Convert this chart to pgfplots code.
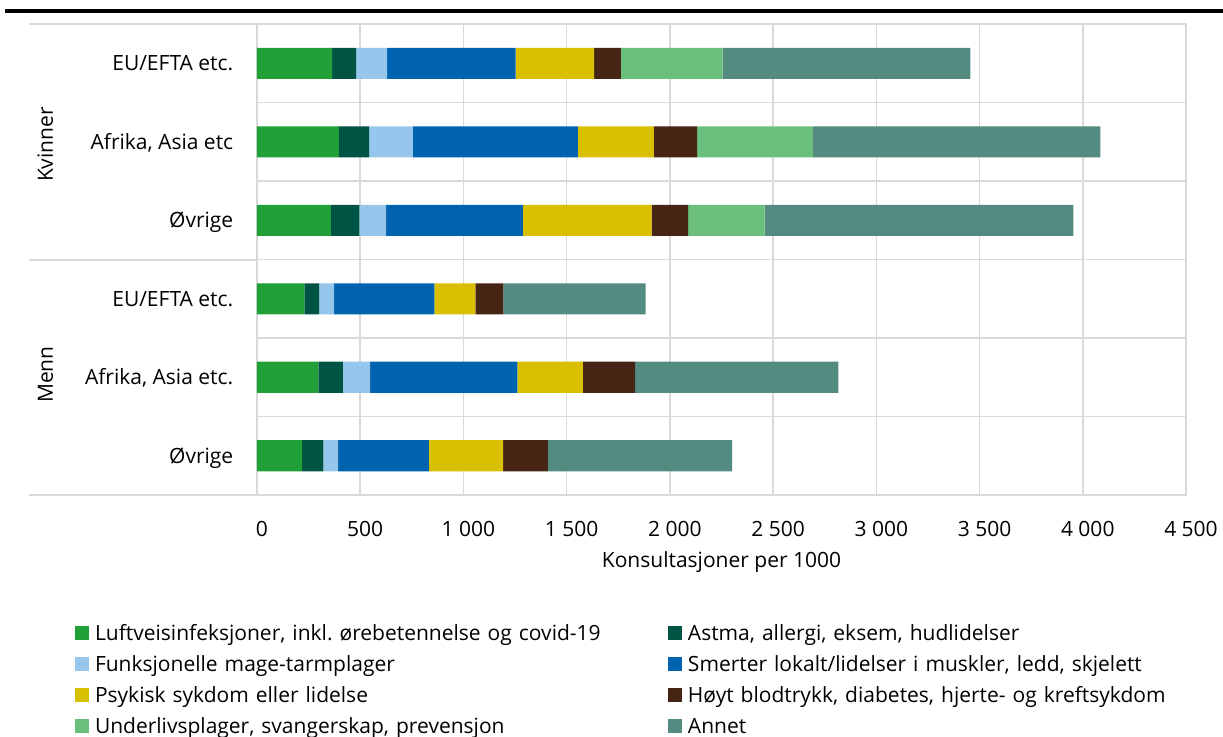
\documentclass[border=0pt]{standalone}
\usepackage{fontspec}
\setmainfont{Open Sans}
\usepackage{pgfplots}
\pgfplotsset{compat=1.18}
\definecolor{c1}{RGB}{33,160,56}
\definecolor{c2}{RGB}{0,84,68}
\definecolor{c3}{RGB}{150,198,235}
\definecolor{c4}{RGB}{0,99,175}
\definecolor{c5}{RGB}{216,191,0}
\definecolor{c6}{RGB}{71,37,20}
\definecolor{c7}{RGB}{106,191,124}
\definecolor{c8}{RGB}{84,139,129}
\definecolor{gridgray}{RGB}{217,217,217}
\newcommand\f{\fontsize{10.5pt}{12.6pt}\selectfont}
\frenchspacing
\begin{document}
\frenchspacing
\begin{tikzpicture}
\useasboundingbox (0,0) rectangle (611.5pt,-368.5pt);
\draw[line width=2pt] (2.5pt,-5.65pt) -- (611.5pt,-5.65pt);
\begin{axis}[
 at={(128.5pt,-247.5pt)}, anchor=south west,
 scale only axis, width=464.5pt, height=235.5pt,
 xbar stacked, bar width=0.395,
 xmin=0, xmax=4500, ymin=-0.5, ymax=5.5,
 xtick={0,500,...,4500},
 ytick={0,1,2,3,4,5},
 yticklabels={Øvrige,{Afrika, Asia etc.},EU/EFTA etc.,Øvrige,{Afrika, Asia etc},EU/EFTA etc.},
 minor ytick={0.5,1.5,2.5,3.5,4.5},
 xmajorgrids, yminorgrids,
 major grid style={gridgray, line width=0.75pt},
 minor grid style={gridgray, line width=0.75pt},
 axis line style={gridgray, line width=0.75pt},
 major tick length=0pt, minor tick length=0pt,
 tick style={draw=none},
 /pgf/number format/assume math mode=true,
 /pgf/number format/1000 sep={\ },
 xticklabel style={font=\f, anchor=base, inner sep=0pt, yshift=-20.5pt, xshift=2.5pt},
 yticklabel style={font=\f, anchor=base east, inner sep=0pt, xshift=-11.7pt, yshift=-3.75pt},
 xlabel={Konsultasjoner per 1000},
 xlabel style={font=\f, at={(axis description cs:0.5,0)}, anchor=base, inner sep=0pt, yshift=-36.5pt},
 legend columns=2,
 legend cell align=left,
 legend style={at={(-0.1959,-0.2745)}, anchor=north west, draw=none, fill=none,
   inner sep=0pt, outer sep=0pt, font=\f\frenchspacing, row sep=5pt,
   nodes={inner sep=0pt, text height=8pt, text depth=2.5pt, text width=286.5pt, align=left},
   /tikz/every odd column/.append style={column sep=3pt}},
 legend image code/.code={\fill[#1] (0pt,-2.75pt) rectangle (7pt,4.25pt);},
]
\addplot[fill=c1, draw=none] coordinates {(219,0) (297,1) (229,2) (358,3) (397,4) (364,5)};
\addlegendentry{Luftveisinfeksjoner, inkl.\ ørebetennelse og covid-19}
\addplot[fill=c2, draw=none] coordinates {(102,0) (119,1) (72,2) (138,3) (146,4) (116,5)};
\addlegendentry{Astma, allergi, eksem, hudlidelser}
\addplot[fill=c3, draw=none] coordinates {(72,0) (132,1) (73,2) (130,3) (212,4) (150,5)};
\addlegendentry{Funksjonelle mage-tarmplager}
\addplot[fill=c4, draw=none] coordinates {(439,0) (713,1) (485,2) (662,3) (799,4) (623,5)};
\addlegendentry{Smerter lokalt/lidelser i muskler, ledd, skjelett}
\addplot[fill=c5, draw=none] coordinates {(360,0) (318,1) (199,2) (623,3) (368,4) (380,5)};
\addlegendentry{Psykisk sykdom eller lidelse}
\addplot[fill=c6, draw=none] coordinates {(217,0) (253,1) (135,2) (177,3) (210,4) (130,5)};
\addlegendentry{Høyt blodtrykk, diabetes, hjerte- og kreftsykdom}
\addplot[fill=c7, draw=none] coordinates {(0,0) (0,1) (0,2) (371,3) (561,4) (492,5)};
\addlegendentry{Underlivsplager, svangerskap, prevensjon}
\addplot[fill=c8, draw=none] coordinates {(892,0) (984,1) (689,2) (1495,3) (1392,4) (1201,5)};
\addlegendentry{Annet}
\end{axis}
\draw[gridgray, line width=0.75pt] (14.5pt,-12pt) -- (128.5pt,-12pt);
\draw[gridgray, line width=0.75pt] (14.5pt,-130pt) -- (128.5pt,-130pt);
\draw[gridgray, line width=0.75pt] (14.5pt,-247.5pt) -- (128.5pt,-247.5pt);
\node[font=\f, rotate=90, anchor=base, inner sep=0pt] at (26.5pt,-72.25pt) {Kvinner};
\node[font=\f, rotate=90, anchor=base, inner sep=0pt] at (26.5pt,-187.25pt) {Menn};
\end{tikzpicture}
\end{document}
